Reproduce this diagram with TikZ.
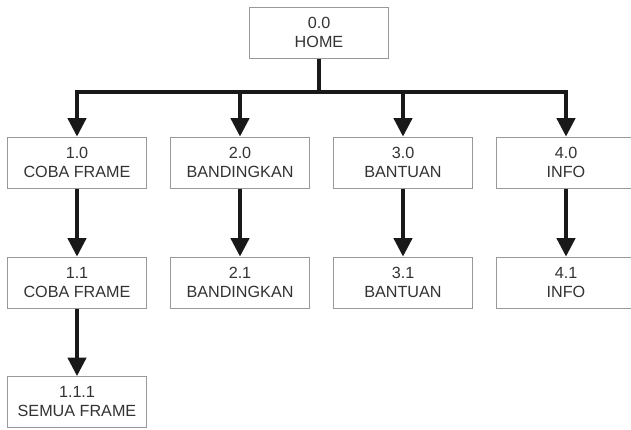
\documentclass[tikz,border=0pt]{standalone}
\usepackage{fontspec}
\setmainfont{Liberation Sans}
\usetikzlibrary{arrows.meta}
\begin{document}
\begin{tikzpicture}[x=0.025cm,y=-0.025cm,
		menu/.style={draw=black!40, line width=0.7pt, fill=white,
			minimum width=3.45cm, minimum height=1.275cm, inner sep=0pt,
			align=center, text=black!80, font=\fontsize{11.5}{13.5}\selectfont},
		link/.style={line width=2.3pt, black!90, -{Triangle[width=13pt,length=13pt]}}]
		\useasboundingbox (0,0) rectangle (631,429);
		
		% top
		\node[menu] (home) at (319,32.5) {0.0\\HOME};
		\coordinate (bus) at (319,92);
		
		% first level
		\node[menu] (coba) at (77,162.5) {1.0\\COBA FRAME};
		\node[menu] (banding) at (240,162.5) {2.0\\BANDINGKAN};
		\node[menu] (bantu) at (403,162.5) {3.0\\BANTUAN};
		\node[menu] (info) at (566,162.5) {4.0\\INFO};
		
		% second level
		\node[menu] (cobaa) at (77,282.5) {1.1\\COBA FRAME};
		\node[menu] (bandinga) at (240,282.5) {2.1\\BANDINGKAN};
		\node[menu] (bantua) at (403,282.5) {3.1\\BANTUAN};
		\node[menu] (infoa) at (566,282.5) {4.1\\INFO};
		
		% third level
		\node[menu] (semua) at (77,402) {1.1.1\\SEMUA FRAME};
		
		% links
		\draw[line width=2.3pt, black!90] (home) -- (bus);
		\foreach \n in {coba,banding,bantu,info}
		\draw[link] (bus) -| (\n);
		
		\draw[link] (coba) -- (cobaa);
		\draw[link] (banding) -- (bandinga);
		\draw[link] (bantu) -- (bantua);
		\draw[link] (info) -- (infoa);
		\draw[link] (cobaa) -- (semua);
		
	\end{tikzpicture}
\end{document}
